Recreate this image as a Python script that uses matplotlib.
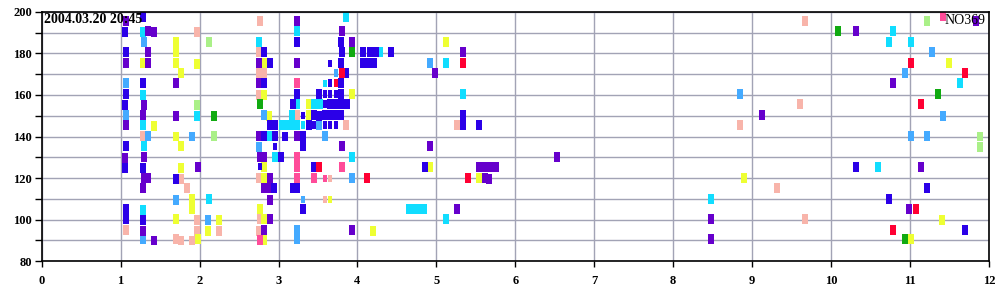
import matplotlib
matplotlib.use("Agg")
import matplotlib.pyplot as plt
import numpy as np

plt.rcParams['font.family'] = ['Liberation Serif', 'DejaVu Serif']

# ---- data: rectangle centres (hour, value) per colour ----
blue_x = [1.28, 1.06, 1.07, 1.28, 1.07, 1.06, 1.07, 1.06, 1.28, 1.70, 1.07, 1.07, 1.28,
          3.24, 3.79, 2.82, 3.80, 4.07, 4.16, 4.24, 4.43, 4.07, 4.15, 4.21, 2.89, 3.79,
          3.86, 2.82, 3.79, 3.24, 3.51, 3.79, 3.18, 3.65, 3.72, 3.79, 3.87, 3.45, 3.51,
          3.59, 3.65, 3.72, 3.79, 2.89, 2.96, 3.38, 2.82, 2.96, 3.08, 3.31, 3.31, 3.03,
          3.45, 2.94, 3.18, 3.24, 3.31, 5.34, 5.34, 5.54, 4.85, 10.31, 11.21, 10.73, 11.70]
blue_y = [197.5, 190.2, 180.4, 165.6, 160.3, 155.2, 135.3, 125.0, 125.0, 119.7, 105.3, 100.5, 100.0,
          185.2, 185.2, 180.6, 180.4, 180.4, 180.6, 180.6, 180.6, 175.3, 175.3, 175.3, 175.3, 175.3,
          170.6, 165.8, 165.8, 160.5, 160.5, 160.5, 155.7, 155.7, 155.7, 155.7, 155.7, 150.4, 150.0,
          150.4, 150.4, 150.4, 150.4, 145.6, 145.6, 145.6, 140.4, 140.4, 140.0, 140.4, 135.2, 130.3,
          125.5, 115.2, 115.2, 115.2, 105.3, 150.4, 145.6, 145.6, 125.5, 125.5, 115.4, 110.1, 95.2]

purple_x = [1.07, 1.35, 1.42, 1.35, 1.07, 1.35, 1.70, 1.29, 1.28, 1.70, 1.07, 1.06, 1.29,
            1.98, 1.29, 1.35, 1.28, 1.28, 1.42,
            3.24, 3.80, 3.93, 2.75, 3.24, 2.75, 2.75, 3.24, 3.80, 2.76, 2.82, 2.89, 2.82,
            2.89, 2.89, 2.89, 2.82, 3.93,
            5.34, 4.98, 4.92, 6.53, 5.54, 5.61, 5.68, 5.76, 5.62, 5.67, 5.26,
            9.12, 8.48, 8.48, 11.83, 10.31, 10.79, 11.14, 10.99]
purple_y = [195.3, 190.7, 190.2, 180.6, 175.1, 175.3, 165.6, 155.2, 150.4, 150.0, 145.4, 129.8, 130.0,
            125.5, 120.0, 120.2, 115.4, 94.8, 90.0,
            195.3, 190.7, 185.5, 175.3, 175.3, 165.8, 140.4, 140.4, 135.2, 130.3, 130.3, 120.0, 115.2,
            115.2, 109.7, 100.3, 95.2, 95.2,
            180.6, 170.6, 135.5, 130.3, 125.5, 125.5, 125.5, 125.5, 120.2, 119.7, 105.3,
            150.4, 100.5, 90.5, 195.5, 190.7, 165.8, 125.5, 105.3]

cyan_x = [1.28, 1.28, 1.97, 1.28, 1.29, 2.12, 1.28,
          3.86, 3.24, 2.75, 4.29, 3.24, 3.45, 3.52, 3.17, 3.05, 3.12, 3.18, 3.24, 2.89,
          2.96, 3.93, 5.12, 5.34, 4.65, 4.72, 4.79, 4.84, 5.12, 8.48,
          10.79, 10.73, 11.01, 11.63, 10.59]
cyan_y = [190.2, 160.0, 150.0, 145.4, 135.3, 110.1, 104.9,
          197.5, 190.7, 185.2, 180.6, 155.7, 155.7, 155.7, 150.4, 145.6, 145.6, 145.6, 145.6, 140.4,
          130.3, 130.3, 175.3, 160.5, 105.3, 105.3, 105.3, 105.3, 100.5, 110.1,
          190.7, 185.5, 185.5, 165.8, 125.5]

lblue_x = [1.07, 1.29, 1.07, 1.35, 1.90, 1.70, 2.11, 1.28,
           2.82, 3.51, 3.59, 2.75, 3.93, 3.24, 3.24, 4.92, 8.84,
           11.28, 10.93, 11.42, 11.01, 11.21]
lblue_y = [165.6, 185.2, 150.4, 140.4, 140.0, 109.7, 100.0, 90.5,
           150.4, 145.6, 140.4, 135.0, 120.2, 95.2, 90.5, 175.3, 160.5,
           180.6, 170.6, 150.0, 140.4, 140.4]

pink_x = [1.97, 1.28, 1.76, 1.84, 1.97, 1.07, 1.97, 2.25, 1.70, 1.76, 1.90,
          2.76, 2.75, 2.75, 2.82, 2.75, 3.24, 3.86, 2.75, 2.76, 2.75,
          5.26, 9.67, 9.60, 8.84, 9.32, 9.67]
pink_y = [190.2, 140.2, 119.7, 115.4, 100.0, 95.2, 94.8, 94.8, 90.5, 90.0, 90.0,
          195.3, 180.4, 170.6, 170.6, 160.0, 150.4, 145.6, 120.2, 100.3, 94.8,
          145.6, 195.5, 155.7, 145.6, 115.4, 100.5]

yellow_x = [1.70, 1.70, 1.70, 1.28, 1.97, 1.77, 1.42, 1.70, 1.77, 1.76, 1.90, 1.90,
            1.70, 2.25, 2.11, 1.98,
            2.82, 2.82, 3.93, 3.38, 2.88, 3.38, 2.82, 2.82, 2.76, 2.82, 4.20, 2.82,
            5.12, 4.92, 5.54, 8.90, 11.49, 11.41, 11.01]
yellow_y = [185.2, 180.4, 175.3, 175.1, 175.0, 170.6, 145.0, 140.0, 135.2, 125.0, 110.0, 105.0,
            100.5, 100.0, 94.8, 90.5,
            175.3, 160.0, 160.5, 155.7, 150.0, 150.4, 125.5, 120.2, 105.3, 100.3, 94.8, 90.2,
            185.5, 125.5, 120.2, 120.2, 175.3, 100.0, 90.5]

green_x = [2.18, 2.76, 3.93, 10.09, 11.35, 10.93]
green_y = [150.0, 155.5, 180.6, 190.7, 160.5, 90.5]

lgreen_x = [2.12, 1.97, 2.18, 11.21, 11.89, 11.89]
lgreen_y = [185.5, 155.2, 140.4, 195.5, 140.0, 135.0]

red_x = [3.80, 3.51, 4.12, 5.34, 5.40, 11.01, 11.70, 11.14, 11.07, 10.79]
red_y = [170.6, 125.5, 120.2, 175.3, 120.2, 175.3, 170.6, 155.7, 105.3, 95.2]

hpink_x = [3.24, 3.24, 3.24, 3.80, 3.24, 3.45, 2.76, 11.42]
hpink_y = [165.8, 130.3, 125.5, 125.5, 120.2, 120.2, 90.2, 197.9]

# smaller marks in the dense block
small_x = [3.65, 3.73, 3.59, 3.65, 3.73, 3.59, 3.65, 3.73, 3.59, 3.31, 3.45, 3.59, 3.65,
           3.73, 3.31, 2.96, 2.76, 3.59, 3.65, 3.31, 3.59, 3.65]
small_y = [175.0, 170.6, 165.6, 165.8, 165.8, 160.5, 160.5, 160.5, 155.7, 150.0, 145.6, 145.6,
           145.6, 145.6, 145.6, 135.2, 125.5, 119.7, 119.7, 109.7, 109.7, 109.7]
small_c = ['blue', 'lblue', 'cyan', 'blue', 'red', 'blue', 'blue', 'blue', 'blue', 'blue', 'blue',
           'blue', 'blue', 'blue', 'cyan', 'blue', 'blue', 'hpink', 'pink', 'lblue', 'pink', 'yellow']

colors = {
    'blue': '#2b00e8', 'purple': '#6600cc', 'cyan': '#11ddff', 'lblue': '#44aaff',
    'pink': '#f8b4aa', 'yellow': '#eeff33', 'green': '#11aa11', 'lgreen': '#aaf088',
    'red': '#ff0033', 'hpink': '#ff4c99',
}

W, H = 0.076, 4.8
WS, HS = 0.052, 3.6

fig = plt.figure(figsize=(10, 3), dpi=100)
ax = fig.add_axes([0.0417, 0.129, 0.9473, 0.832])

groups = [
    (pink_x, pink_y, 'pink'), (yellow_x, yellow_y, 'yellow'), (lgreen_x, lgreen_y, 'lgreen'),
    (green_x, green_y, 'green'), (lblue_x, lblue_y, 'lblue'), (cyan_x, cyan_y, 'cyan'),
    (purple_x, purple_y, 'purple'), (blue_x, blue_y, 'blue'), (red_x, red_y, 'red'),
    (hpink_x, hpink_y, 'hpink'),
]
for gx, gy, key in groups:
    gy = np.array(gy)
    ax.bar(gx, H, width=W, bottom=gy - H / 2, color=colors[key], linewidth=0, zorder=2)

sy = np.array(small_y)
ax.bar(small_x, HS, width=WS, bottom=sy - HS / 2, color=[colors[c] for c in small_c],
       linewidth=0, zorder=2)

ax.set_xlim(0, 12)
ax.set_ylim(80, 200)
ax.set_xticks(range(0, 13))
yt = np.arange(80, 201, 10)
ax.set_yticks(yt)
ax.set_yticklabels([str(v) if v % 20 == 0 else '' for v in yt])
ax.grid(True, color='#a2a3b5', linewidth=1.0, zorder=1)
ax.set_axisbelow(True)

ax.tick_params(axis='y', length=5, width=1, direction='out', pad=2, labelsize=9)
ax.tick_params(axis='x', length=4, width=1, direction='out', pad=6, labelsize=9)
for lab in ax.get_xticklabels() + ax.get_yticklabels():
    lab.set_fontweight('bold')
for sp in ax.spines.values():
    sp.set_color('black')
    sp.set_linewidth(1.2)

ax.text(0.03, 196.3, '2004.03.20 20:45', fontsize=10, fontweight='bold', va='center',
        ha='left', zorder=5)
ax.text(11.96, 196.0, 'NO369', fontsize=10, va='center', ha='right', zorder=5)

fig.savefig('out.png', dpi=100)
